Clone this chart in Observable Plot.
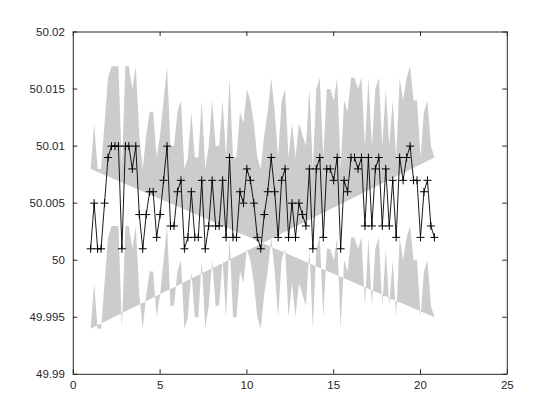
<!DOCTYPE html>
<html><head><meta charset="utf-8">
<script src="https://cdn.jsdelivr.net/npm/d3@7"></script>
<script src="https://cdn.jsdelivr.net/npm/@observablehq/plot@0.6"></script>
<style>
html,body{margin:0;padding:0;background:#fff;}
#chart{width:560px;height:420px;}
svg{display:block;}
</style></head><body><div id="chart"></div>
<script>
// sample positions
const xValues = [
  1, 1.2, 1.4, 1.6, 1.8, 2, 2.2, 2.4, 2.6, 2.8,
  3, 3.2, 3.4, 3.6, 3.8, 4, 4.2, 4.4, 4.6, 4.8,
  5, 5.2, 5.4, 5.6, 5.8, 6, 6.2, 6.4, 6.6, 6.8,
  7, 7.2, 7.4, 7.6, 7.8, 8, 8.2, 8.4, 8.6, 8.8,
  9, 9.2, 9.4, 9.6, 9.8, 10, 10.2, 10.4, 10.6, 10.8,
  11, 11.2, 11.4, 11.6, 11.8, 12, 12.2, 12.4, 12.6, 12.8,
  13, 13.2, 13.4, 13.6, 13.8, 14, 14.2, 14.4, 14.6, 14.8,
  15, 15.2, 15.4, 15.6, 15.8, 16, 16.2, 16.4, 16.6, 16.8,
  17, 17.2, 17.4, 17.6, 17.8, 18, 18.2, 18.4, 18.6, 18.8,
  19, 19.2, 19.4, 19.6, 19.8, 20, 20.2, 20.4, 20.6, 20.8
];
// measured series
const yValues = [
  50.001, 50.005, 50.001, 50.001, 50.005, 50.009, 50.010, 50.010, 50.010, 50.001,
  50.010, 50.010, 50.008, 50.010, 50.004, 50.001, 50.004, 50.006, 50.006, 50.002,
  50.004, 50.007, 50.010, 50.003, 50.003, 50.006, 50.007, 50.001, 50.002, 50.006,
  50.002, 50.002, 50.007, 50.001, 50.003, 50.007, 50.003, 50.003, 50.007, 50.002,
  50.009, 50.002, 50.002, 50.006, 50.005, 50.008, 50.007, 50.005, 50.002, 50.001,
  50.004, 50.006, 50.009, 50.006, 50.002, 50.007, 50.008, 50.002, 50.005, 50.002,
  50.005, 50.004, 50.003, 50.008, 50.001, 50.008, 50.009, 50.002, 50.008, 50.008,
  50.007, 50.009, 50.001, 50.007, 50.006, 50.009, 50.009, 50.008, 50.009, 50.003,
  50.009, 50.003, 50.008, 50.009, 50.003, 50.008, 50.003, 50.007, 50.002, 50.009,
  50.007, 50.009, 50.010, 50.007, 50.007, 50.002, 50.006, 50.007, 50.003, 50.002
];
// half width of the shaded band around the series
const bandHalfWidth = 0.007;

const xTicks = [0, 5, 10, 15, 20, 25];
const xTickLabels = ["0", "5", "10", "15", "20", "25"];
const yTicks = [49.99, 49.995, 50, 50.005, 50.01, 50.015, 50.02];
const yTickLabels = ["49.99", "49.995", "50", "50.005", "50.01", "50.015", "50.02"];

const series = xValues.map((x, i) => ({x, y: yValues[i]}));
// fill polygon: upper edge left->right, then lower edge left->right (self-crossing patch)
const bandPolygon = [
  ...xValues.map((x, i) => ({x, y: yValues[i] + bandHalfWidth})),
  ...xValues.map((x, i) => ({x, y: yValues[i] - bandHalfWidth}))
];

const W = 560, H = 420;
const mL = 72.8, mR = 53.2, mT = 31.5, mB = 46.2;
const innerW = W - mL - mR, innerH = H - mT - mB;
const tickLen = 4.5;
const axisColor = "#262626";

const plusSymbol = {
  draw(context, size) {
    const r = Math.sqrt(size / Math.PI);
    context.moveTo(-r, 0); context.lineTo(r, 0);
    context.moveTo(0, -r); context.lineTo(0, r);
  }
};

const chart = Plot.plot({
  width: W, height: H,
  marginLeft: mL, marginRight: mR, marginTop: mT, marginBottom: mB,
  style: {fontFamily: "'Liberation Sans', Arial, Helvetica, sans-serif", fontSize: "11.5px", background: "#fff", color: axisColor},
  x: {domain: [0, 25]},
  y: {domain: [49.99, 50.02]},
  marks: [
    Plot.line(bandPolygon, {x: "x", y: "y", fill: "#cccccc", stroke: "none"}),
    Plot.line(series, {x: "x", y: "y", stroke: "#000", strokeWidth: 0.9}),
    Plot.dot(series, {x: "x", y: "y", symbol: plusSymbol, r: 4, stroke: "#000", fill: "none", strokeWidth: 1}),
    Plot.ruleX(xTicks, {stroke: axisColor, strokeWidth: 1, insetTop: innerH - tickLen}),
    Plot.ruleX(xTicks, {stroke: axisColor, strokeWidth: 1, insetBottom: innerH - tickLen}),
    Plot.ruleY(yTicks, {stroke: axisColor, strokeWidth: 1, insetRight: innerW - tickLen}),
    Plot.ruleY(yTicks, {stroke: axisColor, strokeWidth: 1, insetLeft: innerW - tickLen}),
    Plot.frame({stroke: axisColor, strokeWidth: 1}),
    Plot.axisX({ticks: xTicks, tickSize: 0, tickPadding: 6.5, tickFormat: d => xTickLabels[xTicks.indexOf(d)], label: null, fill: axisColor}),
    Plot.axisY({ticks: yTicks, tickSize: 0, tickPadding: 8.5, tickFormat: d => yTickLabels[yTicks.indexOf(d)], label: null, fill: axisColor})
  ]
});
document.getElementById("chart").appendChild(chart);
</script>
</body></html>
